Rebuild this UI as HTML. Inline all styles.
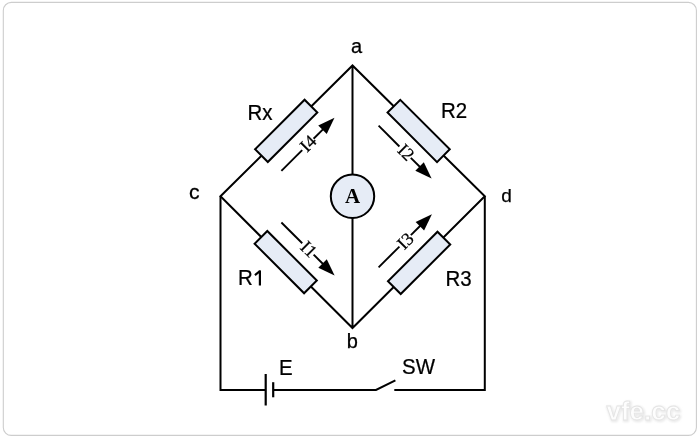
<!DOCTYPE html>
<html><head><meta charset="utf-8"><style>
html,body{margin:0;padding:0;background:#fff;width:700px;height:438px;overflow:hidden}
svg{display:block;will-change:transform}
</style></head><body>
<svg width="700" height="438" viewBox="0 0 700 438">
<defs><filter id="sh" x="-20%" y="-20%" width="140%" height="140%"><feGaussianBlur stdDeviation="1.2"/></filter></defs>
<rect x="3.3" y="2.4" width="693.1" height="433" rx="8" ry="8" fill="#fff" stroke="#cdcdcd" stroke-width="1.1"/>
<text x="606.5" y="419.5" font-family="Liberation Sans, sans-serif" font-weight="bold" font-size="26" fill="none" stroke="#e6e6e6" stroke-width="2" filter="url(#sh)" transform="translate(0.8 1.2)">vfe.cc</text>
<text x="606.5" y="419.5" font-family="Liberation Sans, sans-serif" font-weight="bold" font-size="26" fill="#fdfdfd" stroke="#e4e4e4" stroke-width="0.8">vfe.cc</text>
<path d="M220.5 196.3 L352.5 65.5 L484.8 196.3 L352.5 328.0 Z M352.5 65.5 L352.5 328.0" fill="none" stroke="#000" stroke-width="2.0" stroke-linejoin="miter"/>
<path d="M220.5 196.3 L220.5 390.0 L265.7 390.0 M273.2 390.0 L376 390.0 L395.4 380.3 M394.3 390.0 L484.8 390.0 L484.8 196.3" fill="none" stroke="#000" stroke-width="2.0" stroke-linejoin="miter"/>
<line x1="265.7" y1="374" x2="265.7" y2="405.5" stroke="#000" stroke-width="2.2"/>
<line x1="273.2" y1="382.2" x2="273.2" y2="397.3" stroke="#000" stroke-width="2.2"/>
<rect x="-35.0" y="-9.0" width="70" height="18" fill="#e6ecf6" stroke="#000" stroke-width="2" transform="translate(286.2 130.9) rotate(-45)"/>
<rect x="-35.0" y="-9.0" width="70" height="18" fill="#e6ecf6" stroke="#000" stroke-width="2" transform="translate(418.65 130.95) rotate(45)"/>
<rect x="-35.0" y="-9.0" width="70" height="18" fill="#e6ecf6" stroke="#000" stroke-width="2" transform="translate(285.7 262.1) rotate(45)"/>
<rect x="-35.0" y="-9.0" width="70" height="18" fill="#e6ecf6" stroke="#000" stroke-width="2" transform="translate(419.1 262.9) rotate(-45)"/>
<circle cx="352.5" cy="196.3" r="21.7" fill="#e6ecf6" stroke="#000" stroke-width="2.0"/>
<text x="352.5" y="202.8" text-anchor="middle" font-family="Liberation Serif, serif" font-weight="bold" font-size="21">A</text>
<g transform="translate(307.95 144.35) rotate(-45.00)"><line x1="-37.55" y1="0" x2="-8.15" y2="0" stroke="#000" stroke-width="1.9"/><line x1="7.95" y1="0" x2="21.55" y2="0" stroke="#000" stroke-width="1.9"/><polygon points="37.55,0 20.55,-6.0 20.55,6.0" fill="#000"/><text x="0.70" y="5.54" text-anchor="middle" font-family="Liberation Serif, serif" font-size="18" stroke="#000" stroke-width="0.25">I4</text></g>
<g transform="translate(308.00 249.00) rotate(44.89)"><line x1="-37.55" y1="0" x2="-8.15" y2="0" stroke="#000" stroke-width="1.9"/><line x1="7.95" y1="0" x2="21.55" y2="0" stroke="#000" stroke-width="1.9"/><polygon points="37.55,0 20.55,-6.0 20.55,6.0" fill="#000"/><text x="0.70" y="5.54" text-anchor="middle" font-family="Liberation Serif, serif" font-size="18" stroke="#000" stroke-width="0.25">I1</text></g>
<g transform="translate(405.10 152.15) rotate(44.95)"><line x1="-37.44" y1="0" x2="-8.04" y2="0" stroke="#000" stroke-width="1.9"/><line x1="8.06" y1="0" x2="21.44" y2="0" stroke="#000" stroke-width="1.9"/><polygon points="37.44,0 20.44,-6.0 20.44,6.0" fill="#000"/><text x="0.81" y="5.54" text-anchor="middle" font-family="Liberation Serif, serif" font-size="18" stroke="#000" stroke-width="0.25">I2</text></g>
<g transform="translate(405.25 240.75) rotate(-44.89)"><line x1="-37.62" y1="0" x2="-8.22" y2="0" stroke="#000" stroke-width="1.9"/><line x1="7.88" y1="0" x2="21.62" y2="0" stroke="#000" stroke-width="1.9"/><polygon points="37.62,0 20.62,-6.0 20.62,6.0" fill="#000"/><text x="-0.07" y="6.24" text-anchor="middle" font-family="Liberation Serif, serif" font-size="18" stroke="#000" stroke-width="0.25">I3</text></g>
<text transform="translate(351 52.6) scale(1 1)" font-family="Liberation Sans, sans-serif" font-size="20" stroke="#000" stroke-width="0.25">a</text>
<text transform="translate(346.8 348.2) scale(1 1)" font-family="Liberation Sans, sans-serif" font-size="20" stroke="#000" stroke-width="0.25">b</text>
<text transform="translate(188.9 198.9) scale(1.06 1)" font-family="Liberation Sans, sans-serif" font-size="20" stroke="#000" stroke-width="0.25">c</text>
<text transform="translate(501.3 201.9) scale(1 1)" font-family="Liberation Sans, sans-serif" font-size="19" stroke="#000" stroke-width="0.25">d</text>
<text transform="translate(247.5 119.7) scale(0.91 1)" font-family="Liberation Sans, sans-serif" font-size="22.5" stroke="#000" stroke-width="0.25">Rx</text>
<text transform="translate(441 118.2) scale(0.91 1)" font-family="Liberation Sans, sans-serif" font-size="22.5" stroke="#000" stroke-width="0.25">R2</text>
<text transform="translate(238 285.4) scale(0.91 1)" font-family="Liberation Sans, sans-serif" font-size="22.5" stroke="#000" stroke-width="0.25">R</text>
<path d="M258.8 270.4 L261 270.4 L261 285.5 L258.8 285.5 Z" fill="#000"/>
<path d="M259.9 271.2 L254.9 275.1" stroke="#000" stroke-width="2.1" fill="none"/>
<text transform="translate(445.5 285.5) scale(0.91 1)" font-family="Liberation Sans, sans-serif" font-size="22.5" stroke="#000" stroke-width="0.25">R3</text>
<text transform="translate(279 374.7) scale(0.91 1)" font-family="Liberation Sans, sans-serif" font-size="22.5" stroke="#000" stroke-width="0.25">E</text>
<text transform="translate(402 374) scale(0.91 1)" font-family="Liberation Sans, sans-serif" font-size="22.5" stroke="#000" stroke-width="0.25">SW</text>
</svg>
</body></html>
